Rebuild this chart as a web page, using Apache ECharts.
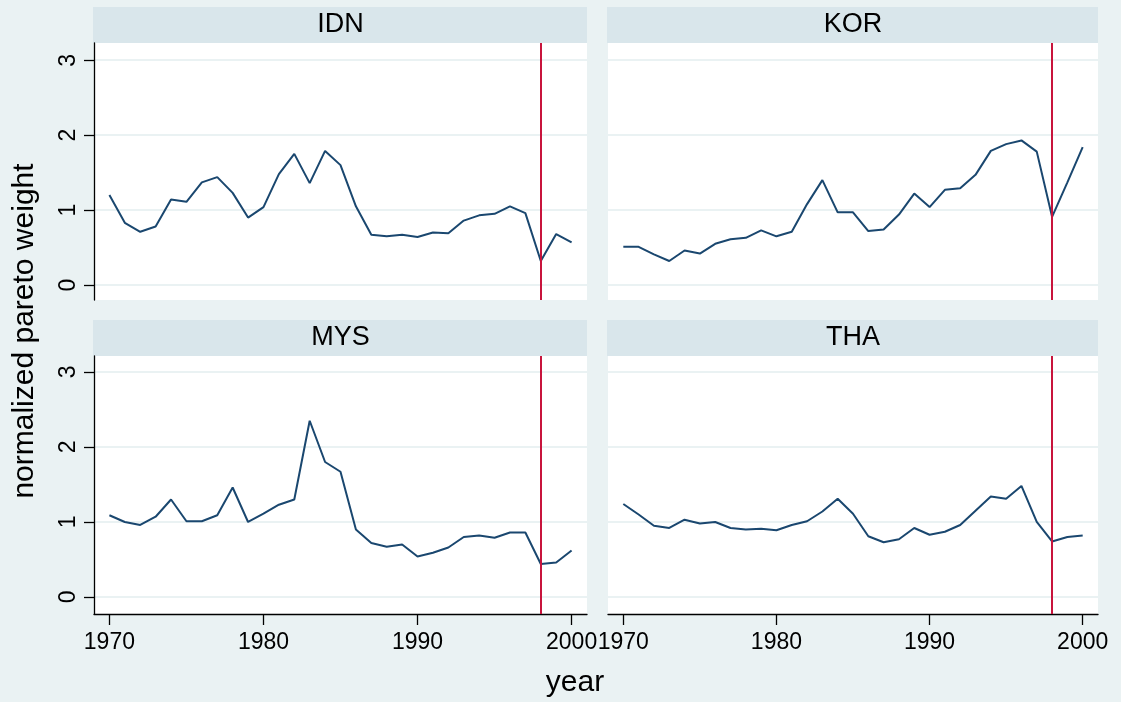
<!DOCTYPE html>
<html>
<head>
<meta charset="utf-8">
<script src="https://cdn.jsdelivr.net/npm/echarts@6/dist/echarts.min.js"></script>
<style>
html,body{margin:0;padding:0;background:#EAF2F3;}
#c{width:1121px;height:702px;}
</style>
</head>
<body>
<div id="c"></div>
<script>
const years = [1970,1971,1972,1973,1974,1975,1976,1977,1978,1979,1980,1981,1982,1983,1984,1985,1986,1987,1988,1989,1990,1991,1992,1993,1994,1995,1996,1997,1998,1999,2000];
const panels = ['IDN','KOR','MYS','THA'];
const IDN = [1.20,0.83,0.71,0.78,1.14,1.11,1.37,1.44,1.23,0.90,1.04,1.48,1.75,1.36,1.79,1.60,1.05,0.67,0.65,0.67,0.64,0.70,0.69,0.86,0.93,0.95,1.05,0.96,0.32,0.68,0.57];
const KOR = [0.51,0.51,0.41,0.32,0.46,0.42,0.55,0.61,0.63,0.73,0.65,0.71,1.08,1.40,0.97,0.97,0.72,0.74,0.94,1.22,1.04,1.27,1.29,1.47,1.79,1.88,1.93,1.78,0.91,1.37,1.84];
const MYS = [1.09,1.00,0.96,1.07,1.30,1.01,1.01,1.09,1.46,1.00,1.11,1.23,1.30,2.35,1.80,1.67,0.90,0.72,0.67,0.70,0.54,0.59,0.66,0.80,0.82,0.79,0.86,0.86,0.44,0.46,0.62];
const THA = [1.24,1.10,0.95,0.92,1.03,0.98,1.00,0.92,0.90,0.91,0.89,0.96,1.01,1.14,1.31,1.11,0.81,0.73,0.77,0.92,0.83,0.87,0.96,1.15,1.34,1.31,1.48,1.00,0.74,0.80,0.82];
const seriesValues = [IDN, KOR, MYS, THA];
const xTicks = [1970,1980,1990,2000];
const yTicks = [0,1,2,3];
const crisisYear = 1998;
const yTitle = 'normalized pareto weight';
const xTitle = 'year';

const FONT = 'Liberation Sans, Arial, sans-serif';
const layout = [
  {left:94, top:43, width:493, height:257, ymin:-0.2, ymax:3.23, showY:true, showX:false},
  {left:608, top:43, width:490, height:257, ymin:-0.2, ymax:3.23, showY:false, showX:false},
  {left:94, top:356, width:493, height:258, ymin:-0.227, ymax:3.213, showY:true, showX:true},
  {left:608, top:356, width:490, height:258, ymin:-0.227, ymax:3.213, showY:false, showX:true}
];

const grids = [], xAxes = [], yAxes = [], series = [], graphics = [];
layout.forEach((L, i) => {
  grids.push({left:L.left, top:L.top, width:L.width, height:L.height, show:true, backgroundColor:'#ffffff', borderWidth:0, containLabel:false});
  xAxes.push({
    type:'value', gridIndex:i, min:1969, max:2001,
    axisLine:{show:L.showX, onZero:false, lineStyle:{color:'#000', width:1.3}},
    axisTick:{show:L.showX, customValues:xTicks, length:11, lineStyle:{color:'#000', width:1.3}},
    axisLabel:{show:L.showX, customValues:xTicks, formatter:v=>String(v), color:'#000', fontFamily:FONT, fontSize:23, margin:17},
    splitLine:{show:false}
  });
  yAxes.push({
    type:'value', gridIndex:i, min:L.ymin, max:L.ymax,
    axisLine:{show:L.showY, onZero:false, lineStyle:{color:'#000', width:1.3}},
    axisTick:{show:L.showY, customValues:yTicks, length:10, lineStyle:{color:'#000', width:1.3}},
    axisLabel:{show:L.showY, customValues:yTicks, rotate:90, color:'#000', fontFamily:FONT, fontSize:23, margin:14},
    splitLine:{show:true, lineStyle:{color:'#EAF2F3', width:2}}
  });
  series.push({
    type:'line', xAxisIndex:i, yAxisIndex:i,
    data: years.map((y, k) => [y, seriesValues[i][k]]),
    symbol:'none', lineStyle:{color:'#1A476F', width:2}, z:3,
    markLine:{silent:true, symbol:'none', label:{show:false},
      lineStyle:{color:'#C8143C', width:2, type:'solid'},
      data:[{xAxis:crisisYear}]}
  });
  graphics.push({type:'rect', shape:{x:L.left-1, y:L.top-36, width:L.width+1, height:36}, style:{fill:'#D9E6EB'}});
  graphics.push({type:'text', x:L.left + L.width/2, y:L.top-18, style:{text:panels[i], fill:'#000', font:'27px ' + FONT, textAlign:'center', textVerticalAlign:'middle'}});
});
graphics.push({type:'text', x:25, y:331, rotation:Math.PI/2, style:{text:yTitle, fill:'#000', font:'30px ' + FONT, textAlign:'center', textVerticalAlign:'middle'}});
graphics.push({type:'text', x:575, y:683, style:{text:xTitle, fill:'#000', font:'30px ' + FONT, textAlign:'center', textVerticalAlign:'middle'}});

const chart = echarts.init(document.getElementById('c'), null, {renderer:'canvas'});
chart.setOption({
  backgroundColor:'#EAF2F3',
  animation:false,
  grid:grids, xAxis:xAxes, yAxis:yAxes, series:series, graphic:graphics
});
</script>
</body>
</html>
